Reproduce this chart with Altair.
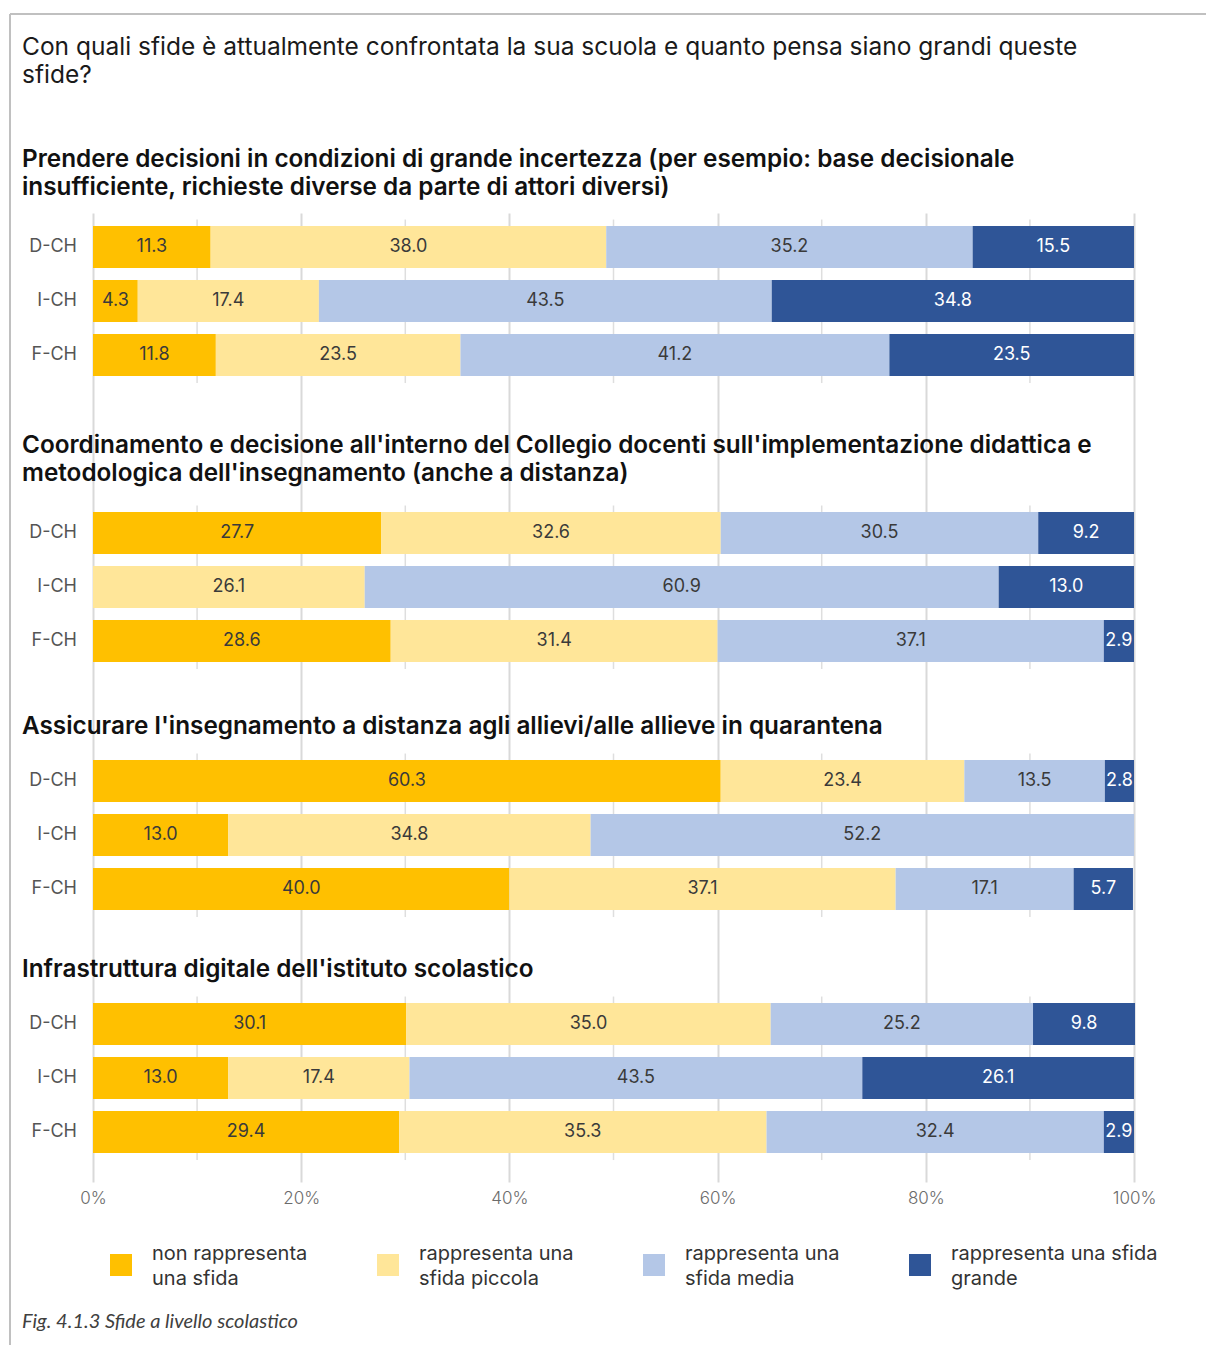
import altair as alt
import pandas as pd

# ---------------- data ----------------
regions = ["D-CH", "I-CH", "F-CH"]
categories = [
    "non rappresenta una sfida",
    "rappresenta una sfida piccola",
    "rappresenta una sfida media",
    "rappresenta una sfida grande",
]
legend_lines = [
    ["non rappresenta", "una sfida"],
    ["rappresenta una", "sfida piccola"],
    ["rappresenta una", "sfida media"],
    ["rappresenta una sfida", "grande"],
]
colors = ["#FFC000", "#FFE699", "#B4C7E7", "#2F5597"]

main_title = [
    "Con quali sfide è attualmente confrontata la sua scuola e quanto pensa siano grandi queste",
    "sfide?",
]
section_titles = [
    ["Prendere decisioni in condizioni di grande incertezza (per esempio: base decisionale",
     "insufficiente, richieste diverse da parte di attori diversi)"],
    ["Coordinamento e decisione all'interno del Collegio docenti sull'implementazione didattica e",
     "metodologica dell'insegnamento (anche a distanza)"],
    ["Assicurare l'insegnamento a distanza agli allievi/alle allieve in quarantena"],
    ["Infrastruttura digitale dell'istituto scolastico"],
]
caption = "Fig. 4.1.3 Sfide a livello scolastico"

# values per section: rows D-CH, I-CH, F-CH ; columns = categories
s1_values = [[11.3, 38.0, 35.2, 15.5], [4.3, 17.4, 43.5, 34.8], [11.8, 23.5, 41.2, 23.5]]
s2_values = [[27.7, 32.6, 30.5, 9.2], [0.0, 26.1, 60.9, 13.0], [28.6, 31.4, 37.1, 2.9]]
s3_values = [[60.3, 23.4, 13.5, 2.8], [13.0, 34.8, 52.2, 0.0], [40.0, 37.1, 17.1, 5.7]]
s4_values = [[30.1, 35.0, 25.2, 9.8], [13.0, 17.4, 43.5, 26.1], [29.4, 35.3, 32.4, 2.9]]
sections = [s1_values, s2_values, s3_values, s4_values]

x_ticks = [0, 20, 40, 60, 80, 100]
minor_ticks = [10, 30, 50, 70, 90]

# ---------------- layout (row units, one unit = one bar row) ----------------
W, H = 1041, 969
ROW_PX = 54.0
Y_MAX = H / ROW_PX
section_first_row = [0.63, 5.926, 10.519, 15.019]
HALF_BAR = 21 / ROW_PX
title_shift = {1: 1.0, 2: 1.62}

bars, labels, rowlabs, titles, minors = [], [], [], [], []
for s, vals in enumerate(sections):
    base = section_first_row[s]
    for r, region in enumerate(regions):
        pos = base + r
        rowlabs.append({"region": region, "pos": pos})
        acc = 0.0
        for c, v in enumerate(vals[r]):
            if v <= 0:
                continue
            bars.append({"cat": categories[c], "start": acc, "end": acc + v,
                         "top": pos - HALF_BAR, "bot": pos + HALF_BAR})
            labels.append({"mid": acc + v / 2, "pos": pos, "txt": f"{v:.1f}",
                            "tc": "#ffffff" if c == 3 else "#3a3a3a"})
            acc += v
    nlines = len(section_titles[s])
    titles.append({"pos": base - title_shift[nlines], "t": section_titles[s]})
    for m in minor_ticks:
        minors.append({"gx": m, "g0": base - HALF_BAR - 0.12, "g1": base + 2 + HALF_BAR + 0.13})

df_bars = pd.DataFrame(bars)
df_labels = pd.DataFrame(labels)
df_rows = pd.DataFrame(rowlabs)
df_minor = pd.DataFrame(minors)
one = pd.DataFrame({"a": [0]})

yscale = alt.Scale(domain=[0, Y_MAX], reverse=True, nice=False, zero=False)
xscale = alt.Scale(domain=[0, 100], nice=False, zero=False)

label_expr = " : ".join(
    f"datum.label == '{categories[i]}' ? ['{legend_lines[i][0]}', '{legend_lines[i][1]}']"
    for i in range(3)
) + f" : ['{legend_lines[3][0]}', '{legend_lines[3][1]}']"

FONT = "Inter"
LABEL_DY = -11

minor_layer = alt.Chart(df_minor).mark_rule(color="#dedede", strokeWidth=1.5).encode(
    x=alt.X("gx:Q", scale=xscale),
    y=alt.Y("g0:Q", scale=yscale, axis=None),
    y2="g1:Q",
)

bar_layer = alt.Chart(df_bars).mark_bar().encode(
    x=alt.X("start:Q", scale=xscale,
            axis=alt.Axis(values=x_ticks, labelExpr="datum.value + '%'", grid=True,
                          gridColor="#d9d9d9", gridWidth=2, ticks=False, domain=False,
                          labelFlush=False, labelPadding=8 - LABEL_DY, labelFontSize=17,
                          labelColor="#6b6b6b", labelFont=FONT, labelFontWeight=300,
                          title=None)),
    x2="end:Q",
    y=alt.Y("top:Q", scale=yscale, axis=None),
    y2="bot:Q",
    color=alt.Color("cat:N", scale=alt.Scale(domain=categories, range=colors),
                    legend=alt.Legend(orient="none", legendX=17, legendY=1041,
                                      direction="horizontal", columns=4, columnPadding=69,
                                      symbolType="square", symbolSize=484,
                                      symbolStrokeWidth=0, labelFontSize=20,
                                      labelFont=FONT, labelColor="#333333", labelOffset=20,
                                      labelLimit=400, labelExpr=label_expr, title=None)),
)

label_layer = alt.Chart(df_labels).mark_text(fontSize=18, font=FONT, baseline="middle").encode(
    x=alt.X("mid:Q", scale=xscale),
    y=alt.Y("pos:Q", scale=yscale, axis=None),
    text="txt:N",
    color=alt.Color("tc:N", scale=None),
)

row_layer = alt.Chart(df_rows).mark_text(fontSize=18, font=FONT, align="right",
                                         baseline="middle", color="#555555").encode(
    x=alt.value(-16),
    y=alt.Y("pos:Q", scale=yscale, axis=None),
    text="region:N",
)

title_layers = []
for t in titles:
    title_layers.append(
        alt.Chart(pd.DataFrame([{"pos": t["pos"]}])).mark_text(
            text=t["t"], fontSize=24.3, font=FONT, fontWeight=600, align="left",
            baseline="middle", lineHeight=28, color="#111111").encode(
            x=alt.value(-71),
            y=alt.Y("pos:Q", scale=yscale, axis=None),
        )
    )

main_title_layer = alt.Chart(one).mark_text(
    text=main_title, fontSize=24.5, font=FONT, align="left", baseline="middle",
    lineHeight=28, color="#1a1a1a").encode(x=alt.value(-71), y=alt.value(-165))

caption_layer = alt.Chart(one).mark_text(
    text=caption, fontSize=20, font="Lato", fontStyle="italic", align="left",
    baseline="middle", color="#404040").encode(x=alt.value(-71), y=alt.value(1109))

border_left = alt.Chart(one).mark_rule(color="#c0c0c0", strokeWidth=2).encode(
    x=alt.value(-83), y=alt.value(-199), y2=alt.value(1132))
border_top = alt.Chart(one).mark_rule(color="#c0c0c0", strokeWidth=2).encode(
    x=alt.value(-83), x2=alt.value(1113), y=alt.value(-199))

chart = alt.layer(
    minor_layer, bar_layer, label_layer, row_layer, *title_layers,
    main_title_layer, caption_layer, border_left, border_top,
).properties(
    width=W, height=H,
    padding={"left": 93, "top": 213, "right": 72, "bottom": 163},
    autosize=alt.AutoSizeParams(type="none"),
    background="white",
).configure(
    view=alt.ViewConfig(stroke=None),
    style={"guide-label": {"dy": LABEL_DY, "lineHeight": 25}},
)

chart.save("out.html", embed_options={"renderer": "svg", "actions": False})
